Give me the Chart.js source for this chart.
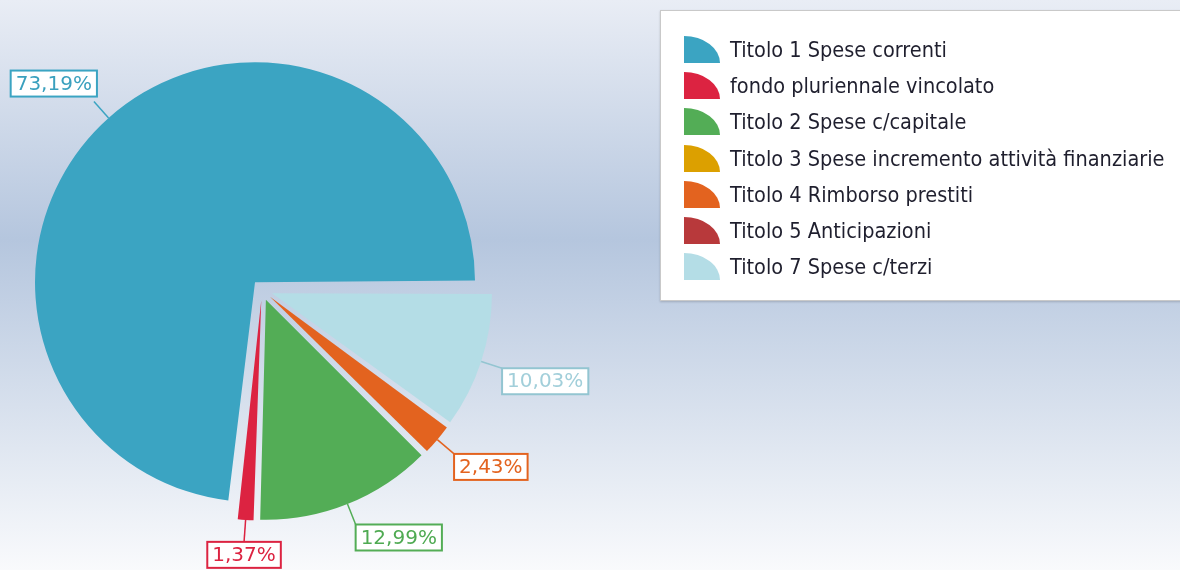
<!DOCTYPE html>
<html>
<head>
<meta charset="utf-8">
<script src="https://cdn.jsdelivr.net/npm/chart.js@4"></script>
<style>
html,body{margin:0;padding:0;}
body{width:1180px;height:570px;overflow:hidden;position:relative;
  background:linear-gradient(to bottom,#e9edf5 0%,#b5c6de 42%,#f9fafc 100%);}
#c{position:absolute;left:0;top:0;}
#legend{position:absolute;left:660px;top:10px;width:540px;height:289px;background:#fff;
  border:1px solid #c9c9c9;box-shadow:0 1px 2px rgba(0,0,0,0.18);}
.row{position:absolute;left:23px;height:27px;display:flex;align-items:center;white-space:nowrap;}
.ic{width:36px;height:27px;border-top-right-radius:100% 100%;margin-right:10px;flex:none;}
.tx{font-family:"DejaVu Sans Condensed","Liberation Sans Narrow","DejaVu Sans",sans-serif;
  font-stretch:condensed;font-size:21.5px;color:#1f1f2e;}
</style>
</head>
<body>
<canvas id="c" width="1180" height="570"></canvas>
<div id="legend"></div>
<script>
// ---- data ----
const categories = [
  "Titolo 1 Spese correnti",
  "fondo pluriennale vincolato",
  "Titolo 2 Spese c/capitale",
  "Titolo 3 Spese incremento attività finanziarie",
  "Titolo 4 Rimborso prestiti",
  "Titolo 5 Anticipazioni",
  "Titolo 7 Spese c/terzi"
];
const percentages = [73.19, 1.37, 12.99, 0, 2.43, 0, 10.03];
const sliceColors = ["#3ba4c2", "#dc2341", "#53ad56", "#dca000", "#e3631f", "#b8393b", "#b4dde6"];
const labelBorderColors = ["#3ba4c2", "#dc2341", "#53ad56", "#dca000", "#e3631f", "#b8393b", "#93c5d1"];
const labelTextColors = ["#3aa0be", "#dc2341", "#4faa52", "#dca000", "#e3631f", "#b8393b", "#a2cfda"];

// slices run counter-clockwise from 3 o'clock in the reference: reverse for Chart.js (clockwise)
const order = categories.map((_, i) => categories.length - 1 - i);

// keep exploded slices at a uniform radius (Chart.js grows offset arcs a little)
const ArcProto = Chart.ArcElement.prototype;
const baseArcDraw = ArcProto.draw;
ArcProto.draw = function (ctx) {
  const shift = (this.options.offset || 0) / 4;
  const fix = 1 - Math.sin(Math.min(Math.PI, this.circumference || 0));
  const saved = this.outerRadius;
  this.outerRadius = saved - shift * fix;
  baseArcDraw.call(this, ctx);
  this.outerRadius = saved;
};

const fmt = v => v.toFixed(2).replace('.', ',') + '%';

const pieLabels = {
  id: 'pieLabels',
  afterDatasetsDraw(chart) {
    const ctx = chart.ctx;
    const meta = chart.getDatasetMeta(0);
    const ds = chart.data.datasets[0];
    ctx.save();
    ctx.font = '20px "DejaVu Sans", sans-serif';
    ctx.textAlign = 'center';
    ctx.textBaseline = 'middle';
    meta.data.forEach((arc, i) => {
      const v = ds.data[i];
      if (!v) return;
      const src = order[i];
      const p = arc.getProps(['x', 'y', 'startAngle', 'endAngle', 'outerRadius'], true);
      const half = (p.startAngle + p.endAngle) / 2;
      const cs = Math.cos(half), sn = Math.sin(half);
      const shift = (arc.options.offset || 0) / 4;
      const r0 = shift + p.outerRadius;
      const x0 = p.x + cs * r0, y0 = p.y + sn * r0;
      const x1 = p.x + cs * (r0 + 22), y1 = p.y + sn * (r0 + 22);
      const txt = fmt(v);
      const w = ctx.measureText(txt).width + 10, h = 26;
      const bx = cs > 0.2 ? x1 : (cs < -0.2 ? x1 - w + 3 : x1 - w / 2);
      const by = sn >= 0 ? y1 : y1 - h - 5;
      ctx.strokeStyle = labelBorderColors[src];
      ctx.lineWidth = 1.5;
      ctx.beginPath(); ctx.moveTo(x0, y0); ctx.lineTo(x1, y1); ctx.stroke();
      ctx.fillStyle = '#ffffff';
      ctx.fillRect(bx, by, w, h);
      ctx.lineWidth = 2;
      ctx.strokeRect(bx, by, w, h);
      ctx.fillStyle = labelTextColors[src];
      ctx.fillText(txt, bx + w / 2, by + h / 2 + 1);
    });
    ctx.restore();
  }
};

new Chart(document.getElementById('c'), {
  type: 'pie',
  data: {
    labels: order.map(i => categories[i]),
    datasets: [{
      data: order.map(i => percentages[i]),
      backgroundColor: order.map(i => sliceColors[i]),
      borderWidth: 0,
      offset: 42
    }]
  },
  options: {
    responsive: false,
    animation: false,
    events: [],
    rotation: 90,
    radius: 220,
    layout: { padding: { left: 0, right: 656, top: 10, bottom: 0 } },
    plugins: { legend: { display: false }, tooltip: { enabled: false } }
  },
  plugins: [pieLabels]
});

// ---- legend ----
const legend = document.getElementById('legend');
categories.forEach((name, i) => {
  const row = document.createElement('div');
  row.className = 'row';
  row.style.top = (25 + i * 36.17) + 'px';
  const ic = document.createElement('span');
  ic.className = 'ic';
  ic.style.background = sliceColors[i];
  const tx = document.createElement('span');
  tx.className = 'tx';
  tx.textContent = name;
  row.appendChild(ic); row.appendChild(tx);
  legend.appendChild(row);
});
</script>
</body>
</html>
